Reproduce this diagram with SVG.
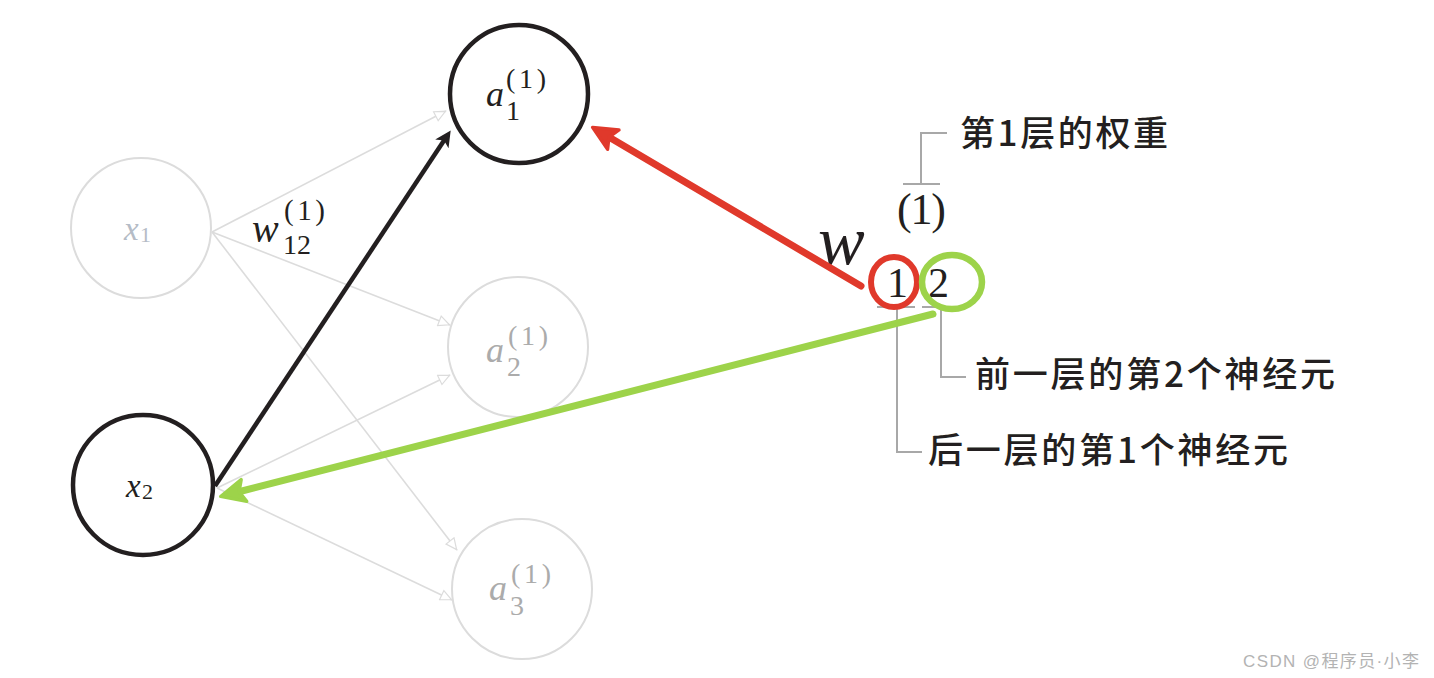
<svg xmlns="http://www.w3.org/2000/svg" width="1434" height="678" viewBox="0 0 1434 678">
<style>
.lc{fill:#fff;stroke:#dcdcdc;stroke-width:2}
.dc{fill:#fff;stroke:#231f20;stroke-width:4.5}
.ll{stroke:#dcdcdc;stroke-width:1.6;fill:none}
.br{stroke:#a8a8a8;stroke-width:2;fill:none}
.mi{font-family:"Liberation Serif",serif;font-style:italic}
.mr{font-family:"Liberation Serif",serif}
.g{fill:#ababab}
.d{fill:#231f20}
.cn{font-family:"Noto Sans CJK SC","Noto Sans",sans-serif;font-weight:500;font-size:35px;fill:#231f20}
</style>
<defs>
<marker id="mo" viewBox="0 0 10 10" refX="10" refY="5" markerWidth="22" markerHeight="12" markerUnits="userSpaceOnUse" orient="auto"><path d="M0.5,0.8 L9.5,5 L0.5,9.2 Z" fill="#fff" stroke="#dcdcdc" stroke-width="1"/></marker>
<marker id="mb" viewBox="0 0 10 10" refX="3" refY="5" markerWidth="22" markerHeight="16" markerUnits="userSpaceOnUse" orient="auto"><path d="M0,0 L10,5 L0,10 L2.5,5 Z" fill="#231f20"/></marker>
<marker id="mr" viewBox="0 0 10 10" refX="3" refY="5" markerWidth="30" markerHeight="28" markerUnits="userSpaceOnUse" orient="auto"><path d="M0.8,1 L9.4,5 L0.8,9 L2.6,5 Z" fill="#e0392b" stroke="#e0392b" stroke-width="1.2" stroke-linejoin="round"/></marker>
<marker id="mg" viewBox="0 0 10 10" refX="3" refY="5" markerWidth="30" markerHeight="28" markerUnits="userSpaceOnUse" orient="auto"><path d="M0.8,1 L9.4,5 L0.8,9 L2.6,5 Z" fill="#9dd34a" stroke="#9dd34a" stroke-width="1.2" stroke-linejoin="round"/></marker>
</defs>

<g id="connectors-light">
<line class="ll" x1="212" y1="232" x2="446" y2="111" marker-end="url(#mo)"/>
<line class="ll" x1="212" y1="232" x2="450" y2="325" marker-end="url(#mo)"/>
<line class="ll" x1="212" y1="232" x2="457" y2="550" marker-end="url(#mo)"/>
<line class="ll" x1="217" y1="488" x2="450" y2="375" marker-end="url(#mo)"/>
<line class="ll" x1="217" y1="488" x2="452" y2="600" marker-end="url(#mo)"/>
</g>

<g id="node-x1">
<circle class="lc" cx="141" cy="228" r="70"/>
<text class="mi" x="124" y="240" font-size="33" fill="#b5bcc6">x</text>
<text class="mr" x="140" y="242" font-size="22" fill="#b5bcc6">1</text>
</g>
<g id="node-a2">
<circle class="lc" cx="518" cy="347" r="70"/>
<text class="mi g" x="486" y="362" font-size="36">a</text>
<text class="mr g" x="507" y="376" font-size="28">2</text>
<text class="mr g" x="508" y="345" font-size="28" textLength="40">(1)</text>
</g>
<g id="node-a3">
<circle class="lc" cx="522" cy="589" r="70"/>
<text class="mi g" x="489" y="600" font-size="36">a</text>
<text class="mr g" x="510" y="615" font-size="28">3</text>
<text class="mr g" x="511" y="583" font-size="28" textLength="40">(1)</text>
</g>
<g id="node-a1">
<circle class="dc" cx="519" cy="94" r="69"/>
<text class="mi d" x="486" y="106" font-size="36">a</text>
<text class="mr d" x="506" y="120" font-size="28">1</text>
<text class="mr d" x="506" y="88" font-size="28" textLength="40">(1)</text>
</g>
<g id="node-x2">
<circle class="dc" cx="143" cy="485" r="70"/>
<text class="mi d" x="126" y="497" font-size="33">x</text>
<text class="mr d" x="142" y="499" font-size="22">2</text>
</g>

<g id="label-w12">
<text class="mi d" x="252" y="242" font-size="40">w</text>
<text class="mr d" x="283" y="254" font-size="28">12</text>
<text class="mr d" x="284" y="220" font-size="29" textLength="41">(1)</text>
</g>

<g id="brackets">
<path class="br" d="M947,133 H921 V184"/>
<path class="br" d="M903,184 H940"/>
<path class="br" d="M877,307 H915"/>
<path class="br" d="M922,307 H942"/>
<path class="br" d="M897,307 V452 H922"/>
<path class="br" d="M941,307 V377 H966"/>
</g>

<g id="notation">
<text class="mi d" x="818" y="264" font-size="70">w</text>
<text class="mr d" x="897" y="224" font-size="44" textLength="49">(1)</text>
<text class="mr d" x="887" y="297" font-size="42">1</text>
<text class="mr d" x="928" y="297" font-size="42">2</text>
<ellipse cx="894" cy="282" rx="23" ry="25" fill="none" stroke="#e0392b" stroke-width="6"/>
<ellipse cx="952" cy="282" rx="30" ry="27" fill="none" stroke="#9dd34a" stroke-width="6.5"/>
</g>

<g id="connectors">
<line x1="215" y1="486" x2="444.5" y2="139.8" stroke="#231f20" stroke-width="4.5" marker-end="url(#mb)"/>
<line x1="933" y1="314" x2="238" y2="492" stroke="#9dd34a" stroke-width="7" stroke-linecap="round" marker-end="url(#mg)"/>
<line x1="861" y1="286" x2="608" y2="136.5" stroke="#e0392b" stroke-width="7" stroke-linecap="round" marker-end="url(#mr)"/>
</g>

<g id="labels">
<text class="cn" x="960" y="146" textLength="208">第1层的权重</text>
<text class="cn" x="975" y="387" textLength="360">前一层的第2个神经元</text>
<text class="cn" x="928" y="463" textLength="360">后一层的第1个神经元</text>
</g>

<text x="1243" y="667" font-family="Liberation Sans,Noto Sans CJK SC,sans-serif" font-size="17" fill="#b3b3b3" textLength="176">CSDN @程序员·小李</text>
</svg>
